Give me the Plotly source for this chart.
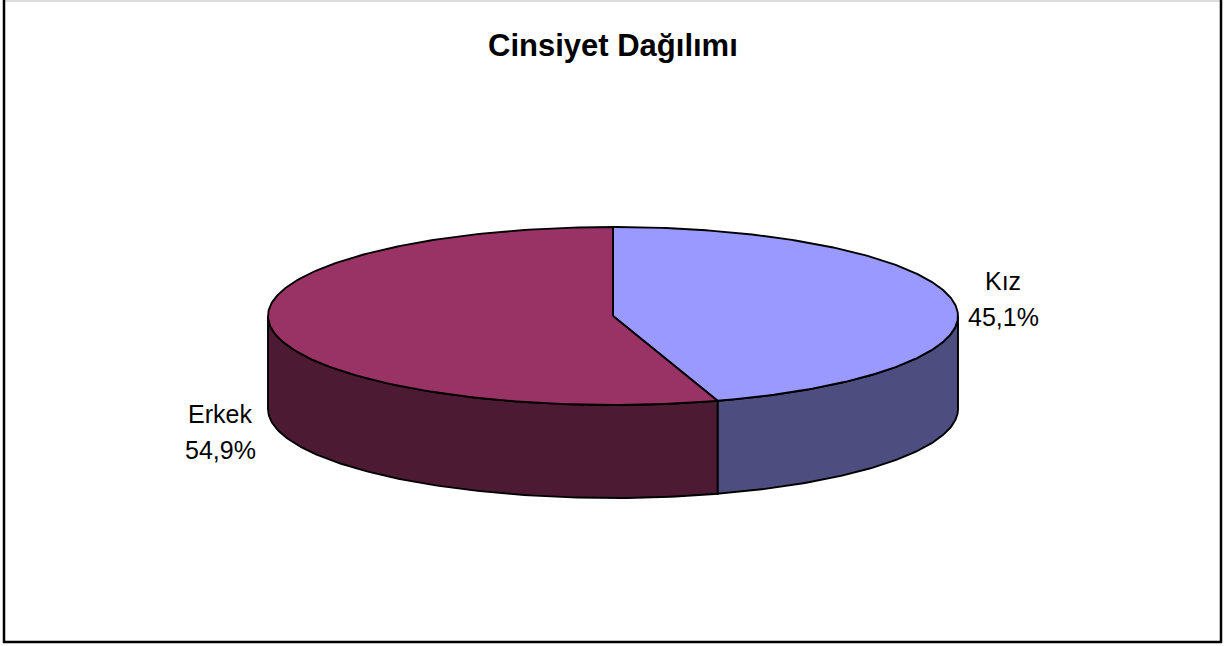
import numpy as np
import plotly.graph_objects as go

# Gender distribution (percent)
labels = ["Kız", "Erkek"]
shares = [45.1, 54.9]
top_colors = ["#9999FF", "#993366"]
side_colors = ["#4D4D80", "#4D1A33"]
title_text = "Cinsiyet Dağılımı"

W, H = 1230, 646
# Projected pie geometry (pixel units on hidden axes)
CX, CY, RX, RY, DEPTH = 613, 316, 345, 89, 93
EDGE = dict(color="black", width=1.9)


def rim(theta_deg, drop=0.0):
    t = np.radians(theta_deg)
    return CX + RX * np.sin(t), CY - RY * np.cos(t) + drop


fig = go.Figure()

# slice angle ranges, clockwise from 12 o'clock
total = sum(shares)
bounds = []
start = 0.0
for s in shares:
    end = start + 360.0 * s / total
    bounds.append((start, end))
    start = end

# visible side walls (front half: 90..270 degrees)
for (a, b), col in zip(bounds, side_colors):
    lo, hi = max(a, 90.0), min(b, 270.0)
    if hi <= lo:
        continue
    th = np.linspace(lo, hi, 120)
    xt, yt = rim(th)
    xb, yb = rim(th[::-1], DEPTH)
    xs = np.concatenate([xt, xb, xt[:1]])
    ys = np.concatenate([yt, yb, yt[:1]])
    fig.add_trace(go.Scatter(x=xs, y=ys, mode="lines", fill="toself",
                             fillcolor=col, line=EDGE, hoverinfo="skip",
                             showlegend=False))

# top faces
for (a, b), col in zip(bounds, top_colors):
    th = np.linspace(a, b, 240)
    xa, ya = rim(th)
    xs = np.concatenate([[CX], xa, [CX]])
    ys = np.concatenate([[CY], ya, [CY]])
    fig.add_trace(go.Scatter(x=xs, y=ys, mode="lines", fill="toself",
                             fillcolor=col, line=EDGE, hoverinfo="skip",
                             showlegend=False))

# data labels
label_pos = [(1003, 281), (220, 414)]
font = dict(family="Liberation Sans, Arial, sans-serif", size=25, color="black")
for name, val, (lx, ly) in zip(labels, shares, label_pos):
    fig.add_annotation(x=lx, y=ly, text=name, showarrow=False,
                       xanchor="center", yanchor="middle", font=font)
    fig.add_annotation(x=lx, y=ly + 36, text=f"{val:.1f}%".replace(".", ","),
                       showarrow=False, xanchor="center", yanchor="middle",
                       font=font)

fig.add_annotation(x=613, y=45, text=f"<b>{title_text}</b>", showarrow=False,
                   xanchor="center", yanchor="middle",
                   font=dict(family="Liberation Sans, Arial, sans-serif",
                             size=31, color="black"))

# chart frame
fig.add_shape(type="line", x0=4, y0=1, x1=1221, y1=1, line=dict(color="#BBBBBB", width=1))
fig.add_shape(type="line", x0=4, y0=0, x1=4, y1=643, line=dict(color="black", width=2.5))
fig.add_shape(type="line", x0=1221, y0=0, x1=1221, y1=643, line=dict(color="black", width=2.5))
fig.add_shape(type="line", x0=3, y0=642, x1=1222, y1=642, line=dict(color="black", width=2.5))

fig.update_xaxes(range=[0, W], visible=False, fixedrange=True)
fig.update_yaxes(range=[H, 0], visible=False, fixedrange=True)
fig.update_layout(width=W, height=H, margin=dict(l=0, r=0, t=0, b=0),
                  paper_bgcolor="white", plot_bgcolor="white")

fig.write_html("out.html")
